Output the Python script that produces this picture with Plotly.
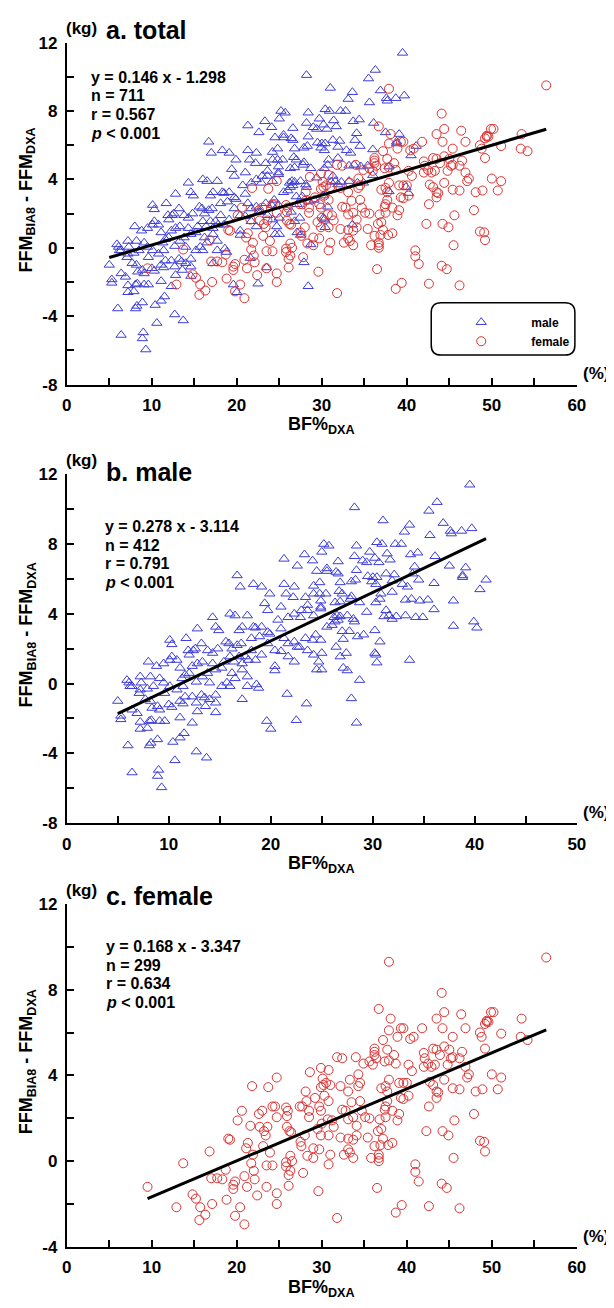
import plotly.graph_objects as go

W, H = 614, 1308

# (BF% by DXA, FFM_BIA8 - FFM_DXA) pairs
male = [
    (5.0, -1.0), (5.3, -1.85), (5.3, -2.05), (6.0, -3.55), (6.4, -5.1), (9.0, -4.95), (8.9, -5.3), (9.3, -5.95),
    (8.1, -3.55), (8.25, -3.4), (8.9, -3.2), (10.4, -3.35), (11.1, -3.1), (11.5, -2.85), (10.6, -4.4),
    (12.7, -3.9), (13.7, -4.25), (6.1, 0.05), (6.2, -0.15), (6.4, -0.15), (5.9, 0.2), (7.1, -0.55),
    (7.2, -0.35), (6.4, -1.5), (6.9, -1.7), (7.2, -2.2), (7.2, -2.6), (7.9, -2.55), (8.1, -2.15),
    (8.3, -2.1), (9.1, -2.15), (9.6, -2.15), (8.0, 1.25), (8.8, 1.0), (7.2, 0.4), (8.2, 0.4), (7.3, 0.05),
    (7.9, -0.3), (8.5, -0.15), (9.1, 0.3), (9.5, 1.15), (10.1, 1.35), (10.3, 1.55), (10.8, 1.35),
    (7.7, -0.9), (8.2, -1.0), (8.35, -1.4), (8.9, -1.3), (9.1, -1.5), (9.6, -0.55), (10.0, -1.2),
    (10.3, -1.35), (9.5, 0.05), (10.1, -0.15), (10.8, -0.35), (10.1, 2.5), (10.3, 2.25), (11.1, 0.9),
    (11.3, 0.3), (11.6, 0.5), (11.4, -0.15), (11.1, -1.0), (11.4, -1.15), (11.1, -1.95), (12.3, -2.25),
    (11.7, 2.6), (11.9, 1.9), (12.0, 1.65), (12.4, 1.9), (12.6, 2.0), (12.8, 3.15), (12.3, 1.0),
    (12.8, 1.15), (13.3, 1.25), (11.6, -0.75), (12.3, -0.75), (12.7, -1.1), (13.2, -0.65), (13.5, -0.8),
    (12.8, -1.6), (13.6, -1.3), (14.6, -1.65), (12.0, 0.6), (12.7, 0.1), (13.3, 0.4), (13.8, 0.6),
    (14.0, 0.05), (14.6, -0.65), (14.6, -1.1), (14.0, -0.9), (14.3, 3.8), (14.6, 3.25), (14.9, 3.05),
    (13.2, 2.3), (13.8, 1.9), (14.3, 1.75), (14.8, 2.0), (14.3, 1.15), (14.6, 0.8), (15.2, 0.9),
    (15.4, 1.25), (15.2, -0.15), (15.7, 0.05), (16.0, 4.0), (16.5, 3.9), (17.2, 3.25), (16.9, 3.05),
    (17.7, 3.9), (18.3, 3.25), (18.5, 3.2), (15.6, 2.4), (15.9, 2.3), (16.2, 2.0), (16.7, 2.2), (17.1, 2.3),
    (16.0, 1.55), (16.4, 1.25), (16.9, 1.55), (17.2, 1.15), (17.5, 1.55), (17.8, 1.35), (16.2, 0.6),
    (16.5, 0.3), (17.2, 0.8), (17.7, 0.4), (16.0, -0.15), (17.2, -0.9), (17.7, -0.15), (18.6, -0.05),
    (18.8, -0.25), (18.1, 2.6), (18.9, 2.7), (19.1, 3.25), (19.7, 2.95), (19.9, 2.85), (19.6, -2.15),
    (20.0, -2.6), (18.1, 1.9), (18.5, 1.35), (19.1, 1.65), (19.7, 2.3), (20.4, 1.9), (20.4, 1.0),
    (20.4, 0.75), (20.7, 3.65), (21.0, 3.15), (21.7, 3.8), (22.3, 4.0), (22.9, 3.8), (23.6, 4.2),
    (24.2, 3.9), (24.9, 4.3), (21.3, 2.6), (21.7, 2.3), (22.3, 2.4), (22.6, 2.1), (21.0, 1.85),
    (21.7, 1.55), (22.3, 1.25), (22.8, 2.1), (23.4, 2.6), (24.1, 2.5), (24.4, 2.8), (24.9, 2.5),
    (23.6, 1.9), (24.2, 1.65), (24.7, 1.25), (25.0, 1.75), (24.5, 0.8), (25.0, 0.8), (21.6, -0.6),
    (23.5, -1.15), (22.5, -2.1), (16.7, 6.2), (17.0, 5.55), (18.3, 5.7), (19.1, 5.55), (19.9, 5.15),
    (19.4, 4.6), (19.7, 4.2), (21.3, 7.15), (22.6, 6.75), (23.3, 7.4), (25.2, 8.0), (21.3, 5.7),
    (22.3, 5.55), (21.5, 5.15), (22.2, 4.95), (23.4, 4.95), (24.2, 5.15), (24.9, 4.75), (23.6, 4.5),
    (23.0, 4.2), (24.9, 4.4), (21.0, 4.4),
    (39.5, 11.4), (28.2, 10.1), (36.3, 10.4), (35.5, 9.9), (31.0, 9.35), (33.6, 9.1), (36.9, 9.2),
    (33.1, 8.7), (35.6, 8.5), (37.6, 8.75), (37.7, 8.6), (38.7, 8.75), (39.7, 8.9), (25.7, 7.9),
    (25.0, 7.55), (28.4, 7.9), (30.4, 8.1), (30.9, 8.0), (32.2, 8.0), (32.8, 8.0), (29.7, 7.55),
    (31.4, 7.45), (28.2, 7.3), (29.0, 7.05), (29.4, 6.95), (30.2, 7.2), (30.6, 6.95), (31.7, 7.1),
    (33.7, 7.4), (34.4, 7.5), (36.1, 7.3), (24.1, 7.05), (26.6, 7.0), (34.1, 6.7), (37.5, 6.75),
    (39.1, 6.65), (38.8, 6.2), (38.8, 6.1), (41.1, 5.95), (40.5, 5.4), (24.5, 6.45), (25.5, 6.6),
    (25.5, 6.45), (26.4, 6.4), (26.6, 6.3), (28.4, 6.5), (31.3, 6.3), (32.1, 6.25), (29.5, 6.15),
    (30.0, 6.1), (30.4, 6.1), (33.9, 6.3), (34.5, 5.95), (24.2, 5.6), (24.8, 5.8), (26.8, 5.8),
    (27.9, 5.85), (28.3, 5.95), (29.9, 5.85), (30.3, 5.7), (31.9, 5.9), (32.9, 5.7), (33.4, 5.55),
    (36.0, 5.75), (24.8, 5.15), (25.4, 5.15), (26.7, 5.3), (27.0, 5.15), (27.9, 5.0), (30.8, 5.15),
    (30.7, 4.85), (31.9, 5.25), (33.2, 4.8), (33.8, 4.85), (34.6, 4.75), (35.4, 4.8), (37.9, 4.75),
    (26.3, 4.65), (26.8, 4.7), (27.8, 4.85), (28.7, 4.65), (30.3, 4.65), (36.0, 4.25), (29.4, 4.1),
    (31.3, 4.2),
    (31.1, 3.85), (31.6, 3.9), (31.9, 3.7), (32.3, 3.85), (33.2, 3.9), (34.2, 3.8), (34.9, 3.8),
    (37.9, 3.3), (39.9, 3.55), (40.2, 3.2), (26.2, 3.8), (26.5, 3.9), (26.8, 3.85), (26.0, 3.35),
    (26.3, 3.55), (26.6, 3.65), (27.5, 3.9), (28.1, 3.7), (28.2, 3.55), (25.5, 3.25), (27.0, 3.0),
    (27.7, 3.0), (28.5, 2.7), (29.1, 2.8), (30.2, 3.05), (30.7, 2.4), (27.1, 2.55), (26.4, 2.1),
    (27.4, 1.75), (26.8, 1.55), (30.2, 1.75), (30.3, 1.65), (30.4, 1.2), (33.6, 1.35), (27.1, 0.9),
    (27.5, 0.75), (28.7, 0.2), (27.9, -0.85), (28.4, -2.25),
]

female = [
    (9.5, -1.2), (12.9, -2.15), (13.7, -0.1), (14.8, -1.55), (15.2, -1.75), (15.7, -2.15), (15.6, -2.75),
    (16.3, -2.5), (16.8, 0.45), (17.1, -2.0), (17.0, -0.8), (17.7, -0.8), (18.3, -0.85), (18.7, -0.4),
    (18.8, -1.8), (19.2, 1.0), (19.6, -1.3), (19.8, -0.95), (19.6, -1.1), (19.8, -2.55), (20.4, -2.15),
    (20.9, -2.95), (20.9, -0.7), (21.1, 0.6), (21.3, 0.85), (21.2, -1.2), (21.7, -0.1), (22.0, -0.45),
    (22.1, -0.85), (21.9, 0.3), (22.4, -1.6), (23.1, 0.7), (23.9, 0.4), (23.5, -1.2), (23.5, -0.2),
    (24.2, -0.2), (24.7, -1.5), (24.7, -2.0), (25.8, -0.05), (25.8, -0.25), (26.1, -0.65), (26.3, -0.45),
    (26.3, 0.25), (26.1, -1.15), (26.5, 0.0), (27.5, 0.9), (27.6, 0.7), (27.8, -0.55), (29.0, 0.6),
    (28.3, 0.25), (29.0, 0.15), (29.7, 0.55), (29.6, -1.4), (30.8, -0.15), (31.0, 0.3), (31.8, -2.65),
    (32.6, 0.3), (33.1, 0.55), (33.3, 0.4), (33.7, 0.15), (33.7, 1.0), (35.8, 0.15), (36.2, 0.7),
    (36.5, -1.25), (36.7, 0.3), (36.7, 0.15), (36.7, 0.0), (36.9, 0.75), (37.8, 0.75), (38.3, 0.85),
    (38.7, -2.4), (39.4, -2.05), (41.0, -0.15), (41.0, -0.5), (41.4, -0.95), (42.6, -2.1), (44.1, -1.05),
    (44.7, -1.25), (45.5, 0.15), (46.2, -2.2), (49.1, 0.9), (49.2, 0.45),
    (19.0, 1.05), (20.1, 1.9), (20.6, 2.35), (21.6, 1.65), (21.8, 3.5), (22.6, 2.2), (23.0, 2.35),
    (22.7, 1.6), (23.2, 1.4), (23.4, 1.2), (23.6, 1.6), (23.7, 3.45), (24.2, 2.55), (24.5, 2.55),
    (24.7, 2.05), (24.7, 3.9), (25.8, 2.5), (26.0, 2.35), (25.9, 2.1), (25.9, 1.6), (26.2, 1.4),
    (26.4, 1.35), (27.4, 2.55), (27.7, 2.55), (28.0, 1.2), (28.1, 3.25), (28.2, 2.8), (28.5, 2.05),
    (28.5, 2.35), (28.6, 4.15), (29.2, 2.95), (29.7, 2.55), (29.9, 2.35), (29.5, 1.5), (29.9, 1.2),
    (30.0, 1.75), (29.9, 3.45), (30.2, 3.55), (30.1, 3.85), (29.9, 4.35),
    (30.5, 3.65), (31.0, 3.55), (30.8, 4.25), (30.3, 3.05), (30.8, 2.8), (30.7, 1.95), (31.2, 1.9),
    (31.4, 1.6), (30.8, 1.2), (31.8, 4.85), (32.4, 4.8), (32.2, 3.5), (33.1, 3.25), (33.3, 3.8),
    (32.8, 2.35), (33.5, 2.75), (32.4, 2.4), (33.1, 1.95), (33.7, 2.05), (34.1, 1.65), (32.2, 1.1),
    (33.1, 1.05), (34.1, 1.2), (34.0, 4.85), (34.3, 4.05), (34.5, 3.65), (34.3, 3.5), (34.9, 4.55),
    (35.6, 4.65), (36.0, 4.5), (34.5, 2.8), (34.7, 2.35), (35.1, 2.05), (35.6, 2.0), (35.4, 1.1),
    (36.2, 4.95), (36.2, 5.1), (36.4, 4.8), (36.2, 5.25), (37.2, 5.65), (36.6, 1.4), (37.0, 1.5),
    (36.8, 1.95), (37.5, 2.05), (37.4, 2.4), (37.5, 2.55), (37.7, 2.8), (37.0, 3.4), (37.5, 3.5),
    (37.7, 3.25), (37.9, 3.8), (37.4, 4.65), (37.9, 4.7), (38.5, 4.95), (38.7, 4.55), (37.7, 5.2),
    (37.2, 1.05), (38.3, 2.35), (38.9, 1.9), (39.1, 2.2), (37.9, 6.1), (38.9, 5.8), (39.3, 6.2),
    (39.6, 6.2), (39.1, 3.65), (39.6, 3.65), (40.0, 3.65), (39.3, 2.95), (39.6, 2.9), (40.2, 3.05),
    (40.2, 4.5), (40.6, 4.2), (40.4, 5.7), (40.8, 5.8), (41.8, 6.2), (42.0, 5.05), (42.1, 4.8),
    (42.5, 4.55), (42.0, 4.4), (42.9, 4.4), (43.3, 4.5), (42.3, 1.4), (42.7, 3.7), (43.1, 3.55),
    (42.6, 2.55), (43.5, 2.95), (43.5, 3.25), (43.7, 3.2), (43.1, 5.25), (43.5, 5.2), (43.9, 4.95),
    (44.4, 5.35), (45.0, 5.2), (45.4, 4.85), (44.2, 6.2), (44.2, 1.4), (44.9, 1.2), (44.4, 3.8),
    (45.4, 3.4), (46.2, 3.35), (44.8, 4.5), (45.2, 4.8), (46.2, 4.8), (46.5, 5.1), (45.6, 1.9),
    (45.4, 5.8), (46.9, 6.2), (46.9, 4.4), (47.3, 4.05), (47.1, 3.9), (47.9, 2.2), (48.1, 3.25),
    (48.9, 3.35), (48.6, 0.95), (48.8, 5.8), (48.6, 6.0), (49.2, 6.4), (49.4, 6.5), (49.2, 5.25),
    (50.0, 4.05), (51.1, 3.9), (50.7, 3.35), (51.1, 5.95), (53.4, 5.8), (54.2, 5.65),
    (37.9, 9.3), (56.4, 9.5), (36.7, 7.1), (38.1, 6.65), (44.1, 7.85), (43.5, 6.65), (44.4, 6.95),
    (46.4, 6.85), (49.4, 6.55), (49.6, 6.5), (49.9, 6.95), (50.2, 6.95), (53.5, 6.65),
]

panels = ['a', 'b', 'c']
titles = {'a': 'a. total', 'b': 'b. male', 'c': 'c. female'}
slope = {'a': 0.146, 'b': 0.278, 'c': 0.168}
intercept = {'a': -1.298, 'b': -3.114, 'c': -3.347}
n_text = {'a': '711', 'b': '412', 'c': '299'}
r_text = {'a': '0.567', 'b': '0.791', 'c': '0.634'}
x_max = {'a': 60, 'b': 50, 'c': 60}
y_min = {'a': -8, 'b': -8, 'c': -4}
Y_MAX = 12

BLUE = '#3c3cd8'
RED = '#dc3232'
FONT = 'Liberation Sans, Arial, sans-serif'

# plot-area boxes in pixels: left, right, top, bottom
box = {'a': (55, 577, 26, 373), 'b': (55, 577, 464, 818), 'c': (55, 577, 900, 1248)}
stat_left = {'a': 78, 'b': 92, 'c': 93}
stat_top = {'a': 61, 'b': 517, 'c': 943}
title_mid = {'a': 13, 'b': 462, 'c': 892}


def X(p):
    return p / W


def Y(p):
    return 1 - p / H


def txt(s, x, y, size, xanchor='left', angle=0):
    return dict(text=s, x=X(x), y=Y(y), xref='paper', yref='paper', showarrow=False,
                xanchor=xanchor, yanchor='middle', textangle=angle,
                font=dict(family=FONT, size=size, color='black', weight='bold'))


fig = go.Figure()
ann = []

for i, k in enumerate(panels, start=1):
    xa = 'x' if i == 1 else f'x{i}'
    ya = 'y' if i == 1 else f'y{i}'
    sets = []
    if k in ('a', 'b'):
        sets.append(('male', male, 'triangle-up-open', BLUE))
    if k in ('a', 'c'):
        sets.append(('female', female, 'circle-open', RED))
    for name, pts, sym, col in sets:
        fig.add_trace(go.Scatter(
            x=[p[0] for p in pts], y=[p[1] for p in pts], mode='markers', name=name,
            marker=dict(symbol=sym, size=9, color=col, line=dict(width=1, color=col)),
            xaxis=xa, yaxis=ya, showlegend=(k == 'a'),
        ))
    # regression line over the data range, from the printed coefficients
    xs = [p[0] for _, pts, _, _ in sets for p in pts]
    x0, x1 = min(xs), max(xs)
    fig.add_trace(go.Scatter(
        x=[x0, x1], y=[slope[k] * x0 + intercept[k], slope[k] * x1 + intercept[k]],
        mode='lines', line=dict(color='black', width=3), xaxis=xa, yaxis=ya, showlegend=False,
    ))

    l, r, t, b = box[k]
    xticks = list(range(0, x_max[k] + 1, 5))
    yticks = list(range(y_min[k], Y_MAX + 1, 2))
    common = dict(showline=True, linewidth=2, linecolor='black', ticks='inside', ticklen=7,
                  tickwidth=2, tickcolor='black', showgrid=False, zeroline=False,
                  tickfont=dict(family=FONT, size=17, color='black', weight='bold'))
    fig.update_layout(**{
        ('xaxis' if i == 1 else f'xaxis{i}'): dict(
            domain=[X(l), X(r)], range=[0, x_max[k]], anchor=ya,
            tickvals=xticks, ticktext=[str(v) if v % 10 == 0 else '' for v in xticks],
            ticklabelstandoff=4, **common),
        ('yaxis' if i == 1 else f'yaxis{i}'): dict(
            domain=[Y(b), Y(t)], range=[y_min[k], Y_MAX], anchor=xa,
            tickvals=yticks, ticktext=[str(v) if v % 4 == 0 else '' for v in yticks],
            ticklabelstandoff=4, **common),
    })

    ann.append(txt('(kg)', 52, t - 14, 17))
    ann.append(txt(titles[k], 93, title_mid[k], 25))
    ann.append(txt('(%)', 612, b - 11, 17, xanchor='right'))
    lines = [f'y = {slope[k]:.3f} x - {abs(intercept[k]):.3f}', f'n = {n_text[k]}', f'r = {r_text[k]}']
    for j, s in enumerate(lines):
        ann.append(txt(s, stat_left[k], stat_top[k] + 19 * j, 16))
    ann.append(txt('<i>p</i> &lt; 0.001', stat_left[k], stat_top[k] + 57, 16))
    ann.append(txt('FFM<sub>BIA8</sub> - FFM<sub>DXA</sub>', 15, t + 0.46 * (b - t), 18,
                   xanchor='center', angle=-90))
    ann.append(txt('BF%<sub>DXA</sub>', (l + r) / 2, b + 42, 18, xanchor='center'))

# rounded legend frame in panel a
bx0, by0, bx1, by1, rr = 428, 290, 575, 343, 10
path = (f'M {X(bx0 + rr)},{Y(by0)} L {X(bx1 - rr)},{Y(by0)} Q {X(bx1)},{Y(by0)} {X(bx1)},{Y(by0 + rr)} '
        f'L {X(bx1)},{Y(by1 - rr)} Q {X(bx1)},{Y(by1)} {X(bx1 - rr)},{Y(by1)} '
        f'L {X(bx0 + rr)},{Y(by1)} Q {X(bx0)},{Y(by1)} {X(bx0)},{Y(by1 - rr)} '
        f'L {X(bx0)},{Y(by0 + rr)} Q {X(bx0)},{Y(by0)} {X(bx0 + rr)},{Y(by0)} Z')

fig.update_layout(
    width=W, height=H, margin=dict(l=0, r=0, t=0, b=0),
    plot_bgcolor='white', paper_bgcolor='white',
    annotations=ann,
    shapes=[dict(type='path', path=path, xref='paper', yref='paper',
                 line=dict(color='black', width=1.5))],
    legend=dict(x=X(bx0), y=Y(295), xanchor='left', yanchor='top', bgcolor='rgba(0,0,0,0)',
                borderwidth=0, itemwidth=90, tracegroupgap=0,
                font=dict(family=FONT, size=12, color='black', weight='bold')),
)

fig.write_html('out.html', config={'displayModeBar': False})
